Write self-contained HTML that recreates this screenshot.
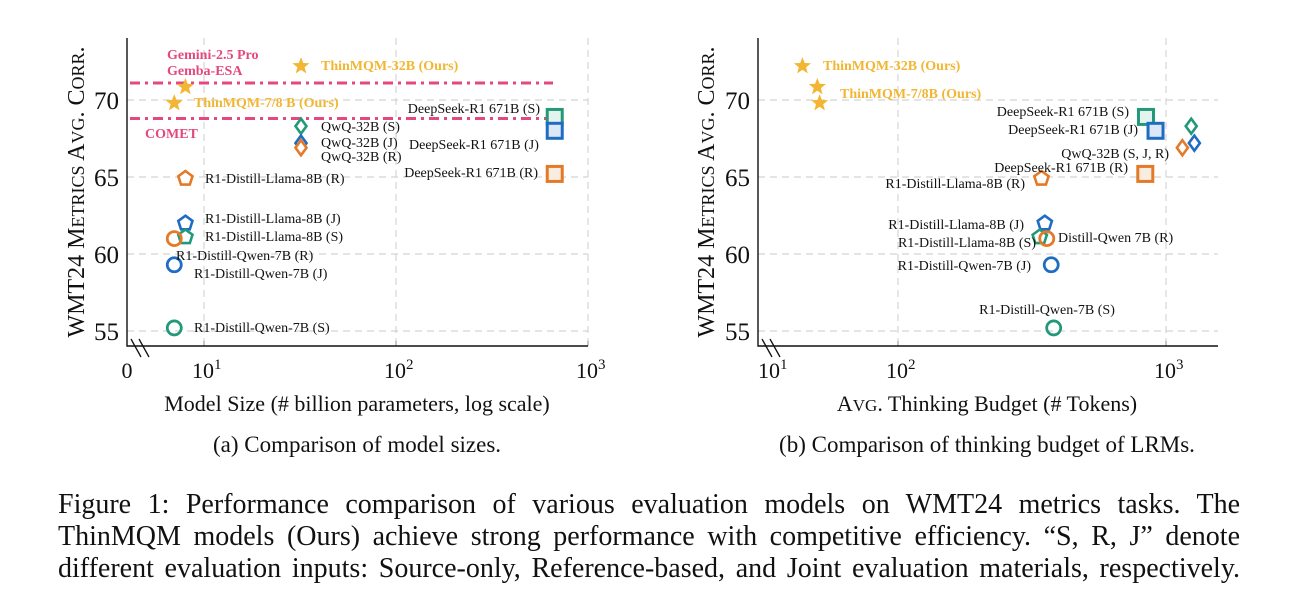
<!DOCTYPE html>
<html><head><meta charset="utf-8">
<style>
html,body{margin:0;padding:0;background:#fff;}
body{width:1298px;height:609px;overflow:hidden;position:relative;font-family:"Liberation Serif",serif;}
svg text{font-family:"Liberation Serif",serif;}
#caption{position:absolute;left:58px;top:489px;width:1182px;font-size:28px;line-height:32px;color:#111;}
#caption div{text-align:justify;text-align-last:justify;white-space:nowrap;}
</style></head>
<body>
<svg id="fig" width="1298" height="480" style="position:absolute;left:0;top:0"></svg>
<div id="caption">
<div>Figure 1: Performance comparison of various evaluation models on WMT24 metrics tasks. The</div>
<div>ThinMQM models (Ours) achieve strong performance with competitive efficiency. “S, R, J” denote</div>
<div>different evaluation inputs: Source-only, Reference-based, and Joint evaluation materials, respectively.</div>
</div>
<script>
// ---------- data ----------
const yTicks = [55, 60, 65, 70];
const leftNames = ["ThinMQM-32B","ThinMQM-7/8B a","ThinMQM-7/8B b","QwQ-32B (S)","QwQ-32B (J)","QwQ-32B (R)","DeepSeek-R1 671B (S)","DeepSeek-R1 671B (J)","DeepSeek-R1 671B (R)","R1-Distill-Llama-8B (R)","R1-Distill-Llama-8B (J)","R1-Distill-Llama-8B (S)","R1-Distill-Qwen-7B (R)","R1-Distill-Qwen-7B (J)","R1-Distill-Qwen-7B (S)"];
const scores = [72.2, 70.85, 69.8, 68.3, 67.2, 66.9, 68.9, 68.0, 65.2, 64.9, 62.0, 61.1, 61.0, 59.3, 55.2];
const modelSizes = [32, 8, 7, 32, 32, 32, 671, 671, 671, 8, 8, 8, 7, 7, 7];
const thinkBudget = [44, 50, 51, 1242, 1276, 1151, 842, 914, 837, 343, 353, 338, 359, 373, 381];
const shapes = ["star","star","star","diamond","diamond","diamond","square","square","square","pentagon","pentagon","pentagon","circle","circle","circle"];
const colorKeys = ["gold","gold","gold","S","J","R","S","J","R","R","J","S","R","J","S"];
const refLines = [71.1, 68.8];
const xTickExp = [1, 2, 3];

const COLORS = {gold:"#f2b632", S:"#23997a", J:"#1f6cc4", R:"#e47a27"};
const FILLS = {S:"#e3f3ee", J:"#dde8f6", R:"#fbece0"};
const NS = "http://www.w3.org/2000/svg";
const svg = document.getElementById('fig');
function mk(tag, attrs, parent){const e=document.createElementNS(NS,tag);for(const k in attrs)e.setAttribute(k,attrs[k]);(parent||svg).appendChild(e);return e;}
function txt(x,y,s,attrs,parent){const t=mk('text',Object.assign({x:x,y:y},attrs),parent);t.textContent=s;return t;}

// axis functions
const yScale = v => 100 + (70 - v) * 15.4;
const xLeft = v => 204 + 192 * Math.log10(v / 10);
const xRight = v => 898 + 268 * Math.log10(v / 100);

function marker(g, shape, cx, cy, ck){
  const c = COLORS[ck]; let e;
  if(shape==="star"){
    const pts=[];for(let i=0;i<10;i++){const r=i%2?3.8:9;const a=-Math.PI/2+i*Math.PI/5;pts.push((cx+r*Math.cos(a)).toFixed(1)+","+(cy+r*Math.sin(a)).toFixed(1));}
    e=mk('polygon',{points:pts.join(" "),fill:c},g);
  } else if(shape==="diamond"){
    e=mk('polygon',{points:`${cx},${cy-7.5} ${cx+5.5},${cy} ${cx},${cy+7.5} ${cx-5.5},${cy}`,fill:"#fff",stroke:c,"stroke-width":2.6},g);
  } else if(shape==="square"){
    e=mk('rect',{x:cx-7.5,y:cy-7.5,width:15,height:15,fill:FILLS[ck],stroke:c,"stroke-width":3},g);
  } else if(shape==="pentagon"){
    const pts=[];for(let i=0;i<5;i++){const a=-Math.PI/2+i*2*Math.PI/5;pts.push((cx+7.5*Math.cos(a)).toFixed(1)+","+(cy+7.5*Math.sin(a)).toFixed(1));}
    e=mk('polygon',{points:pts.join(" "),fill:"#fff",stroke:c,"stroke-width":2.6},g);
  } else {
    e=mk('circle',{cx:cx,cy:cy,r:7,fill:"none",stroke:c,"stroke-width":2.8},g);
  }
  return e;
}

function drawAxes(g, x0, x1, xs, tickLabelX){
  yTicks.forEach(v=>{
    const l=mk('line',{x1:x0,x2:x1,y1:yScale(v),y2:yScale(v),stroke:"#d4d4d4","stroke-width":1.2,"stroke-dasharray":"7,5"},g);
    
    
    const t=txt(x0-8,yScale(v)+9,String(v),{"font-size":25,"text-anchor":"end",fill:"#111"},g);
    
    
  });
  xTickExp.forEach(p=>{
    const x=xs(Math.pow(10,p));
    if(x>x0+5){
      const l=mk('line',{x1:x,x2:x,y1:38,y2:346,stroke:"#d4d4d4","stroke-width":1.2,"stroke-dasharray":"7,5"},g);
      
      
      mk('line',{x1:x,x2:x,y1:341,y2:346,stroke:"#999","stroke-width":1},g);
    }
    const lx = x>x0+5 ? x : tickLabelX;
    const t=mk('text',{x:lx-12,y:378,"font-size":22,fill:"#111"},g);
    t.textContent="10";
    const sup=mk('tspan',{dy:-9,"font-size":15},t);sup.textContent=String(p);
    
    
  });
  const ax=mk('path',{d:`M${x0},38 L${x0},346 L${x1},346`,fill:"none",stroke:"#111","stroke-width":1.4},g);
  
  
  mk('line',{x1:x0+4,y1:339,x2:x0+14,y2:357,stroke:"#111","stroke-width":1.3},g);
  mk('line',{x1:x0+12,y1:339,x2:x0+22,y2:357,stroke:"#111","stroke-width":1.3},g);
}

function yTitle(g,x){
  const t=mk('text',{transform:`translate(${x},192) rotate(-90)`,"text-anchor":"middle","font-size":24,fill:"#111"},g);
  t.innerHTML='WMT24 M<tspan font-size="18">ETRICS</tspan> A<tspan font-size="18">VG</tspan>. C<tspan font-size="18">ORR</tspan>.';
  
  
}

// ---------- left chart ----------
const gL=mk('g',{});


drawAxes(gL,127,588,xLeft,0);
txt(127,378,"0",{"font-size":22,"text-anchor":"middle",fill:"#111"},gL);
yTitle(gL,84);
refLines.forEach(v=>{
  const l=mk('line',{x1:130,x2:553,y1:yScale(v),y2:yScale(v),stroke:"#e4487f","stroke-width":3,"stroke-dasharray":"10,5,3,5"},gL);
  
  
});
scores.forEach((s,i)=>{
  const m=marker(gL,shapes[i],xLeft(modelSizes[i]),yScale(s),colorKeys[i]);
  
  
});
const lblL=[
 [321,70,"ThinMQM-32B (Ours)","start",COLORS.gold,"bold"],
 [194,107,"ThinMQM-7/8 B (Ours)","start",COLORS.gold,"bold"],
 [167,59,"Gemini-2.5 Pro","start","#e4487f","bold"],
 [167,75,"Gemba-ESA","start","#e4487f","bold"],
 [145,138,"COMET","start","#e4487f","bold"],
 [540,113,"DeepSeek-R1 671B (S)","end","#111",""],
 [321,131,"QwQ-32B (S)","start","#111",""],
 [321,147,"QwQ-32B (J)","start","#111",""],
 [409,149,"DeepSeek-R1 671B (J)","start","#111",""],
 [321,161,"QwQ-32B (R)","start","#111",""],
 [538,177,"DeepSeek-R1 671B (R)","end","#111",""],
 [205,183,"R1-Distill-Llama-8B (R)","start","#111",""],
 [205,223,"R1-Distill-Llama-8B (J)","start","#111",""],
 [205,241,"R1-Distill-Llama-8B (S)","start","#111",""],
 [176,260,"R1-Distill-Qwen-7B (R)","start","#111",""],
 [194,278,"R1-Distill-Qwen-7B (J)","start","#111",""],
 [194,332,"R1-Distill-Qwen-7B (S)","start","#111",""]
];
lblL.forEach(a=>{const t=txt(a[0],a[1],a[2],{"font-size":14,"text-anchor":a[3],fill:a[4],"font-weight":a[5]||"normal"},gL);
  
  });
let t1=txt(357,411,"Model Size (# billion parameters, log scale)",{"font-size":22,"text-anchor":"middle",fill:"#111"},gL);


let c1=txt(357,452,"(a) Comparison of model sizes.",{"font-size":23,"text-anchor":"middle",fill:"#111"},gL);



// ---------- right chart ----------
const gR=mk('g',{});


drawAxes(gR,758,1218,xRight,770);
yTitle(gR,714);
scores.forEach((s,i)=>{
  const m=marker(gR,shapes[i],xRight(thinkBudget[i]),yScale(s),colorKeys[i]);
  
  
});
const lblR=[
 [823,70,"ThinMQM-32B (Ours)","start",COLORS.gold,"bold"],
 [840,98,"ThinMQM-7/8B (Ours)","start",COLORS.gold,"bold"],
 [1129,116,"DeepSeek-R1 671B (S)","end","#111",""],
 [1138,134,"DeepSeek-R1 671B (J)","end","#111",""],
 [1169,158,"QwQ-32B (S, J, R)","end","#111",""],
 [1128,172,"DeepSeek-R1 671B (R)","end","#111",""],
 [1025,188,"R1-Distill-Llama-8B (R)","end","#111",""],
 [1024,229,"R1-Distill-Llama-8B (J)","end","#111",""],
 [1036,247,"R1-Distill-Llama-8B (S)","end","#111",""],
 [1058,242,"Distill-Qwen 7B (R)","start","#111",""],
 [1031,270,"R1-Distill-Qwen-7B (J)","end","#111",""],
 [1047,314,"R1-Distill-Qwen-7B (S)","middle","#111",""]
];
lblR.forEach(a=>{const t=txt(a[0],a[1],a[2],{"font-size":14,"text-anchor":a[3],fill:a[4],"font-weight":a[5]||"normal"},gR);
  
  });
let t2=mk('text',{x:987,y:411,"font-size":22,"text-anchor":"middle",fill:"#111"},gR);
t2.innerHTML='A<tspan font-size="17">VG</tspan>. Thinking Budget (# Tokens)';


let c2=txt(987,452,"(b) Comparison of thinking budget of LRMs.",{"font-size":23,"text-anchor":"middle",fill:"#111"},gR);


</script>
</body></html>
